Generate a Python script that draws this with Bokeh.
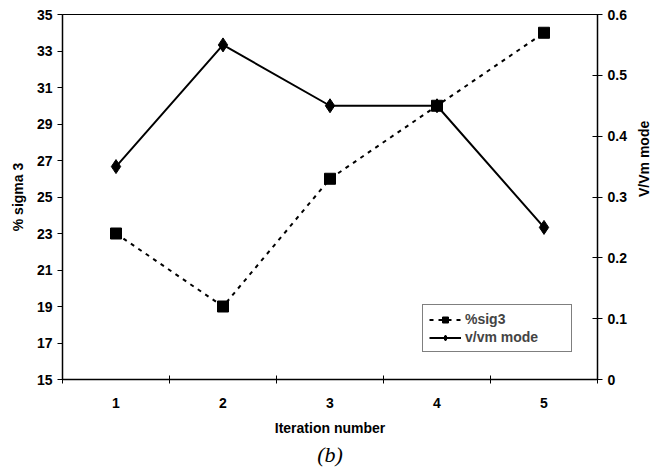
import math
from bokeh.plotting import figure
from bokeh.models import (Range1d, LinearAxis, FixedTicker, Legend, LegendItem, Title)
from bokeh.embed import file_html
from bokeh.resources import INLINE

iterations = [1, 2, 3, 4, 5]
sig3_pct = [23, 19, 26, 30, 34]
vvm_mode = [0.35, 0.55, 0.45, 0.45, 0.25]
left_ticks = [15, 17, 19, 21, 23, 25, 27, 29, 31, 33, 35]
right_ticks = [0, 0.1, 0.2, 0.3, 0.4, 0.5, 0.6]

FONT = "Liberation Sans"

p = figure(width=662, height=468, output_backend="svg", toolbar_location=None,
           x_range=Range1d(0.5, 5.5), y_range=Range1d(15, 35),
           x_axis_label="Iteration number", y_axis_label="% sigma 3",
           min_border_left=62, min_border_right=65, min_border_top=14, min_border_bottom=10)
p.extra_y_ranges = {"right": Range1d(0, 0.6)}
p.xgrid.visible = False
p.ygrid.visible = False
p.outline_line_color = "black"
p.outline_line_width = 1
p.background_fill_color = "white"
p.border_fill_color = "white"

# x axis
xa = p.xaxis[0]
xa.ticker = FixedTicker(ticks=iterations, minor_ticks=[0.5, 1.5, 2.5, 3.5, 4.5, 5.5])
xa.major_tick_in = 0
xa.major_tick_out = 0
xa.minor_tick_in = 4
xa.minor_tick_out = 4
xa.minor_tick_line_color = "black"
xa.major_label_standoff = 14

# left axis
ya = p.yaxis[0]
ya.ticker = FixedTicker(ticks=left_ticks, minor_ticks=[])
ya.major_tick_in = 0
ya.major_tick_out = 5
ya.minor_tick_in = 0
ya.minor_tick_out = 0

# right axis
ra = LinearAxis(y_range_name="right", axis_label="V/Vm mode",
                ticker=FixedTicker(ticks=right_ticks, minor_ticks=[]))
ra.major_tick_in = 5
ra.major_tick_out = 5
ra.minor_tick_in = 0
ra.minor_tick_out = 0
ra.axis_label_orientation = math.pi / 2
p.add_layout(ra, "right")

for ax in [xa, ya, ra]:
    ax.axis_line_color = "black"
    ax.axis_line_width = 1.5
    ax.major_tick_line_color = "black"
    ax.major_label_text_font = FONT
    ax.major_label_text_font_style = "bold"
    ax.major_label_text_font_size = "14px"
    ax.major_label_text_color = "black"
    ax.axis_label_text_font = FONT
    ax.axis_label_text_font_style = "bold"
    ax.axis_label_text_font_size = "14px"
    ax.axis_label_text_color = "black"

ya.axis_label_standoff = 8
ra.axis_label_standoff = 14
xa.axis_label_standoff = 9

# series
l1 = p.line(iterations, sig3_pct, line_color="black", line_width=2, line_dash="4 5")
s1 = p.scatter(iterations, sig3_pct, marker="square", size=11, fill_color="black", line_color="black")
l2 = p.line(iterations, vvm_mode, y_range_name="right", line_color="black", line_width=2)
s2 = p.scatter(iterations, vvm_mode, y_range_name="right", marker="diamond", size=14,
               fill_color="black", line_color="black")

legend = Legend(items=[LegendItem(label="%sig3", renderers=[l1, s1]),
                       LegendItem(label="v/vm mode", renderers=[l2, s2])],
                location=(360, 27))
legend.border_line_color = "black"
legend.border_line_width = 1
legend.label_text_font = FONT
legend.label_text_font_style = "bold"
legend.label_text_font_size = "14px"
legend.glyph_width = 32
legend.glyph_height = 15
legend.label_height = 15
legend.label_standoff = 4
legend.label_width = 100
legend.spacing = 2
legend.padding = 6
legend.margin = 0
legend.background_fill_alpha = 1
p.add_layout(legend, "center")

cap = Title(text="(b)", align="center", text_font="Liberation Serif",
            text_font_style="italic", text_font_size="22px", text_color="black")
cap.standoff = 3
p.add_layout(cap, "below")

open("out.html", "w").write(file_html(p, INLINE))
